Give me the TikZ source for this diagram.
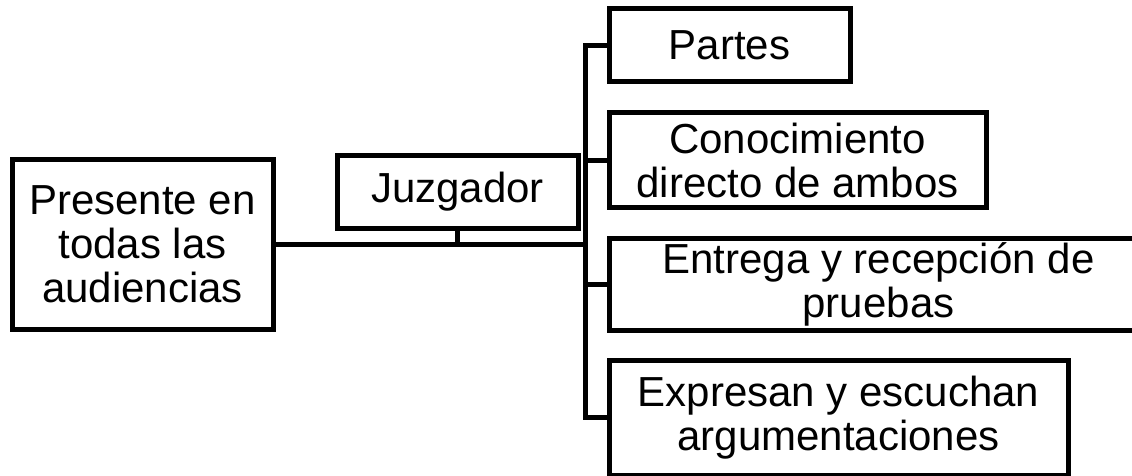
\documentclass[tikz,border=0pt]{standalone}
\usepackage{fontspec}
\setmainfont{Liberation Sans}
\begin{document}
\begin{tikzpicture}[x=1pt,y=-1pt,
  box/.style={draw=black, line width=5pt, rectangle, inner sep=0pt, outer sep=0pt,
    align=center, font=\fontsize{42}{44}\selectfont},
  link/.style={draw=black, line width=5pt}]
\useasboundingbox (0,0) rectangle (1132,476);
\clip (0,0) rectangle (1132,476);
\fill[white] (0,0) rectangle (1132,476);
\node[box, minimum width=261pt, minimum height=170pt] (L) at (142.5,244) {Presente en\\todas las\\audiencias};
\node[box, minimum width=241pt, minimum height=73pt] (J) at (457.5,191.5) {Juzgador};
\node[box, minimum width=241pt, minimum height=73pt] (P) at (729.5,45.5) {Partes};
\node[box, minimum width=377pt, minimum height=94pt] (C) at (797.5,160) {Conocimiento\\directo de ambos};
\node[box, minimum width=539pt, minimum height=92pt] (E) at (878.5,284) {Entrega y recepción de\\pruebas};
\node[box, minimum width=459pt, minimum height=115pt] (X) at (838.5,417.5) {Expresan y escuchan\\argumentaciones};
\coordinate (trunk) at (585,0);
\draw[link] (P.west) -- (P.west -| trunk) -- (X.west -| trunk) -- (X.west);
\draw[link] (C.west) -- (C.west -| trunk);
\draw[link] (E.west) -- (E.west -| trunk);
\draw[link] (L.east) -- (L.east -| trunk);
\draw[link] (J.south) -- (J.south |- L.east);
\end{tikzpicture}
\end{document}
